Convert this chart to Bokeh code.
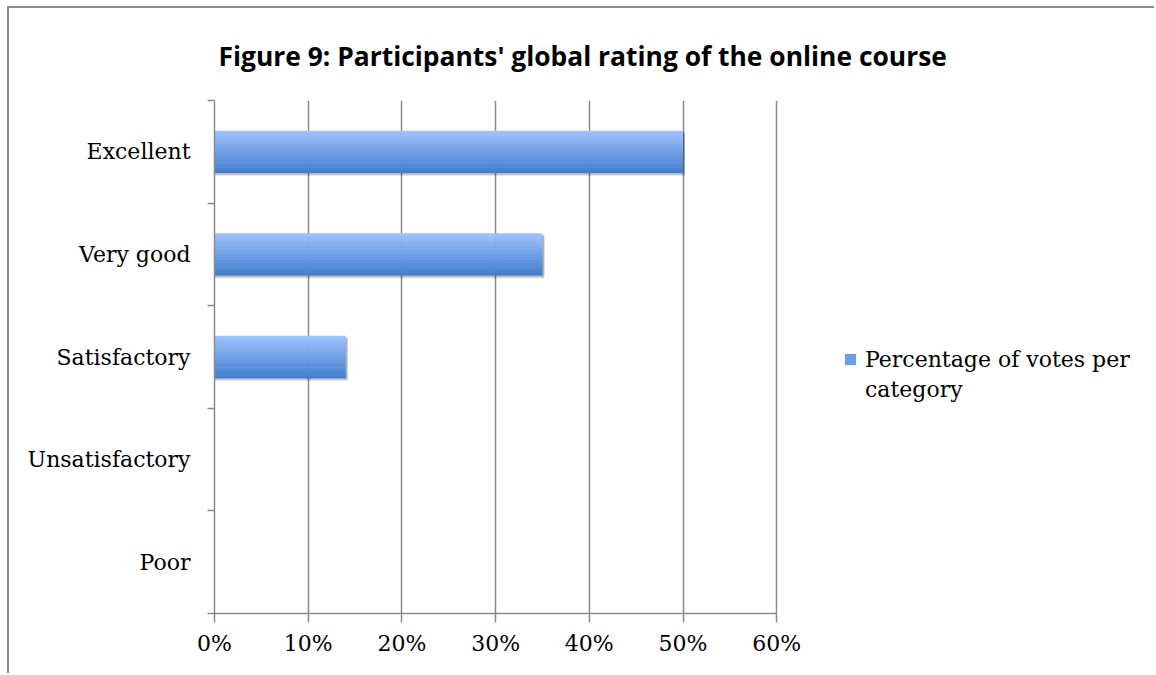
from bokeh.plotting import figure
from bokeh.models import Range1d, FixedTicker, NumeralTickFormatter, Legend, LegendItem
from bokeh.embed import file_html
from bokeh.resources import INLINE

# ---- data ----
categories = ["Excellent", "Very good", "Satisfactory", "Unsatisfactory", "Poor"]
votes_pct = [0.50, 0.35, 0.14, 0.0, 0.0]
x_ticks = [0.0, 0.1, 0.2, 0.3, 0.4, 0.5, 0.6]
series_name_lines = ["Percentage of votes per", "category"]
title_text = "Figure 9: Participants' global rating of the online course"

n = len(categories)
# top-to-bottom order: first category at top
ypos = [n - 1 - i + 0.5 for i in range(n)]

GRAY = "#8a8a8a"
SERIF = "DejaVu Serif"

# the frame extends right to host the legend; axis/grid are bounded to 0..60%
p = figure(width=1147, height=667, output_backend="svg", toolbar_location=None,
           x_range=Range1d(0, 1.0), y_range=Range1d(0, n),
           min_border_left=205, min_border_right=5, min_border_top=92,
           min_border_bottom=62)
p.styles = {"border-top": f"2px solid {GRAY}", "border-left": f"2px solid {GRAY}",
            "margin-top": "6px", "margin-left": "7px"}
p.outline_line_color = None
p.background_fill_color = "white"
p.border_fill_color = "white"

# title
p.title.text = title_text
p.title.text_font = "Open Sans"
p.title.text_font_style = "bold"
p.title.text_font_size = "26.4px"
p.title.align = "left"
p.title.offset = 4
p.title.standoff = 53
p.title.text_color = "black"

# grid
p.ygrid.grid_line_color = None
p.xgrid.grid_line_color = GRAY
p.xgrid.grid_line_width = 1.5
p.xgrid.ticker = FixedTicker(ticks=x_ticks)

# x axis
p.xaxis.ticker = FixedTicker(ticks=x_ticks)
p.xaxis.bounds = (x_ticks[0], x_ticks[-1])
p.xaxis.formatter = NumeralTickFormatter(format="0%")
p.xaxis.axis_line_color = GRAY
p.xaxis.axis_line_width = 1.5
p.xaxis.major_tick_line_color = GRAY
p.xaxis.major_tick_line_width = 1.5
p.xaxis.major_tick_out = 9
p.xaxis.major_tick_in = 0
p.xaxis.minor_tick_line_color = None
p.xaxis.major_label_text_font = SERIF
p.xaxis.major_label_text_font_size = "22px"
p.xaxis.major_label_text_color = "black"
p.xaxis.major_label_standoff = 8

# y axis: labels at category centers, ticks at boundaries (minor ticks)
p.yaxis.ticker = FixedTicker(ticks=ypos, minor_ticks=[float(i) for i in range(n + 1)])
p.yaxis.major_label_overrides = {y: c for y, c in zip(ypos, categories)}
p.yaxis.axis_line_color = GRAY
p.yaxis.axis_line_width = 1.5
p.yaxis.major_tick_line_color = None
p.yaxis.major_tick_out = 0
p.yaxis.major_tick_in = 0
p.yaxis.minor_tick_line_color = GRAY
p.yaxis.minor_tick_line_width = 1.5
p.yaxis.minor_tick_out = 7
p.yaxis.minor_tick_in = 0
p.yaxis.major_label_text_font = SERIF
p.yaxis.major_label_text_font_size = "22px"
p.yaxis.major_label_text_color = "black"
p.yaxis.major_label_standoff = 17

# bars: shadow + vertical gradient drawn in slices
bar_h = 0.41
for dy, a in [(-0.03, 0.10), (-0.02, 0.12), (-0.01, 0.12)]:
    p.hbar(y=[y + dy for y in ypos], right=[v + 0.002 if v > 0 else 0 for v in votes_pct],
           left=0, height=bar_h, fill_color="#000000", fill_alpha=a, line_color=None)

top_rgb = (0x9C, 0xC2, 0xFF)
bot_rgb = (0x44, 0x7F, 0xCF)
nslices = 16
main_r = None
for s in range(nslices):
    t = s / (nslices - 1)
    rgb = tuple(int(round(top_rgb[j] + (bot_rgb[j] - top_rgb[j]) * t)) for j in range(3))
    col = "#%02x%02x%02x" % rgb
    off = bar_h / 2 - (s + 0.5) * bar_h / nslices
    r = p.hbar(y=[y + off for y in ypos], right=votes_pct, left=0,
               height=bar_h / nslices * 1.08, fill_color=col, line_color=None)
    if s == nslices // 2:
        main_r = r

# invisible renderer for the wrapped second legend line
blank_r = p.hbar(y=[], right=[], left=0, height=bar_h, fill_alpha=0, line_alpha=0)

legend = Legend(items=[LegendItem(label=series_name_lines[0], renderers=[main_r]),
                       LegendItem(label=series_name_lines[1], renderers=[blank_r])],
                location=(629, 211), orientation="vertical",
                border_line_color=None, background_fill_alpha=0,
                label_text_font=SERIF, label_text_font_size="22px",
                label_text_color="black", glyph_width=14, glyph_height=14,
                label_standoff=8, padding=0, margin=0, spacing=4,
                label_height=26)
p.add_layout(legend, "center")

open("out.html", "w").write(file_html(p, INLINE))
